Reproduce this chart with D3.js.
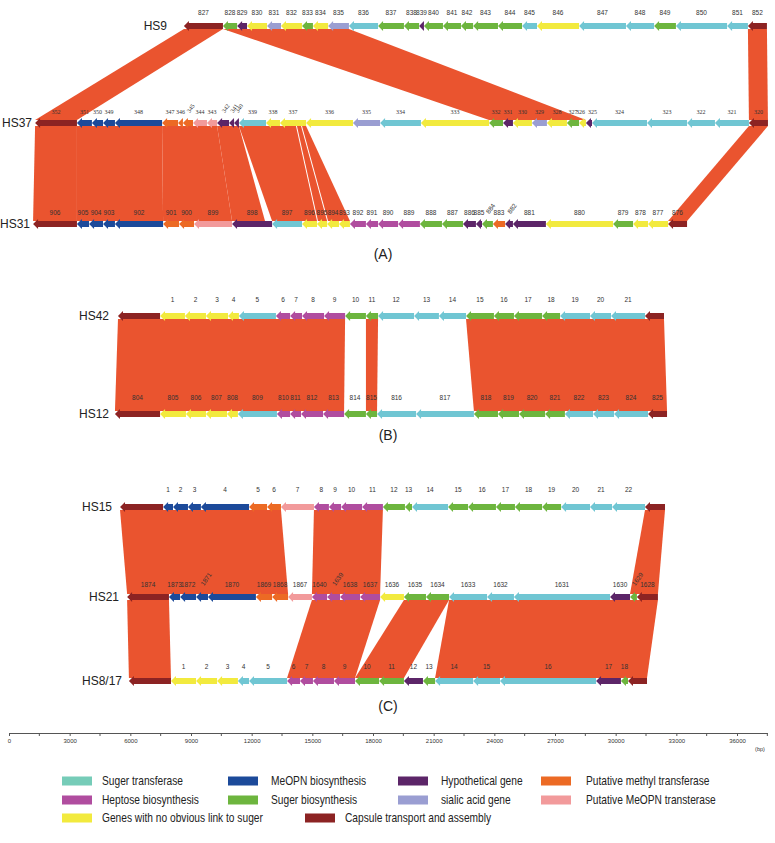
<!DOCTYPE html>
<html>
<head>
<meta charset="utf-8">
<script src="https://cdn.jsdelivr.net/npm/d3@7"></script>
<style>
body { margin: 0; background: #fff; }
svg { display: block; }
</style>
</head>
<body>
<svg id="chart"></svg>
<script>
'use strict';

// ---- data ----
var categories = ['st', 'meo', 'hyp', 'mt', 'hep', 'sb', 'sia', 'pm', 'yel', 'cap'];
var categoryNames = ['Suger transferase', 'MeOPN biosynthesis', 'Hypothetical gene', 'Putative methyl transferase',
    'Heptose biosynthesis', 'Suger biosynthesis', 'sialic acid gene', 'Putative MeOPN transterase',
    'Genes with no obvious link to suger', 'Capsule transport and assembly'];

var axisMajor = [0, 3000, 6000, 9000, 12000, 15000, 18000, 21000, 24000, 27000, 30000, 33000, 36000];
var axisMinor = [1500, 4500, 7500, 10500, 13500, 16500, 19500, 22500, 25500, 28500, 31500, 34500, 37500];

var hs9Names = ['827','828','829','830','831','832','833','834','835','836','837','838','839','840','841','842','843','844','845','846','847','848','849','850','851','852'];
var hs9Cats = ['cap','sb','hyp','yel','sia','yel','sb','yel','sia','st','sb','sb','hyp','sb','sb','sb','sb','sb','st','yel','st','st','sb','st','st','cap'];
var hs9Bounds = [8650,10580,11280,11770,12760,13450,14490,15030,15780,16810,18250,19530,20280,20520,21460,22350,22950,24180,25370,26110,28190,30510,31900,32980,35510,36540,37480];

var hs37Names = ['352','351','350','349','348','347','346','345','344','343','342','341','340','339','338','337','336','335','334','333','332','331','330','329','328','327','326','325','324','323','322','321','320'];
var hs37Cats = ['cap','meo','meo','meo','meo','mt','mt','mt','pm','pm','hyp','hyp','hyp','st','yel','yel','yel','sia','st','yel','sb','hyp','yel','sia','yel','sb','yel','hyp','st','st','st','st','cap'];
var hs37Bounds = [1290,3360,4100,4650,5240,7570,8360,8600,9100,9790,10290,10880,11130,11370,12710,13400,14690,17010,18350,20370,23740,24430,24920,25860,26600,27590,28190,28530,28830,31550,33530,34910,36590,37530];

var hs31Names = ['906','905','904','903','902','901','900','899','898','897','896','895','894','893','892','891','890','889','888','887','886','885','884','883','882','881','880','879','878','877','876'];
var hs31Cats = ['cap','meo','meo','meo','meo','mt','mt','pm','hyp','st','yel','yel','yel','yel','hep','hep','hep','hep','sb','sb','hyp','hyp','sb','mt','hyp','hyp','yel','sb','yel','yel','cap'];
var hs31Bounds = [1190,3360,3960,4650,5240,7620,8410,9150,11030,13010,14490,15230,15730,16320,16860,17650,18250,19240,20320,21410,22450,23090,23390,23930,24530,24920,26550,29870,30860,31600,32590,33530];

var hs42Names = ['','1','2','3','4','5','6','7','8','9','10','11','12','13','14','15','16','17','18','19','20','21',''];
var hs42Cats = ['cap','yel','yel','yel','yel','st','hep','hep','hep','hep','sb','sb','st','st','st','sb','sb','sb','sb','st','st','st','cap'];
var hs42Bounds = [5390,7470,8700,9740,10830,11370,13200,13900,14490,15580,16620,17650,18250,20030,21260,22600,23980,24970,26360,27250,28730,29770,31450,32390];

var hs12Names = ['804','805','806','807','808','809','810','811','812','813','814','815','816','817','818','819','820','821','822','823','824','825'];
var hs12Cats = ['cap','yel','yel','yel','yel','st','hep','hep','hep','hep','sb','sb','st','st','sb','sb','sb','sb','st','st','st','cap'];
var hs12Bounds = [5240,7470,8750,9740,10780,11320,13250,13900,14440,15530,16570,17650,18200,20130,22990,24180,25220,26510,27490,28880,29920,31600,32540];

var hs15Names = ['','1','2','3','4','5','6','7','8','9','10','11','12','13','14','15','16','17','18','19','20','21','22',''];
var hs15Cats = ['cap','meo','meo','meo','meo','mt','mt','pm','hep','hep','hep','hep','sb','sb','st','sb','sb','sb','sb','sb','st','st','st','cap'];
var hs15Bounds = [5490,7620,8110,8850,9490,11870,12760,13450,15080,15820,16420,17460,18490,19580,19930,21710,22700,24080,25020,26360,27300,28730,29820,31450,32440];

var hs21Names = ['1874','1873','1872','1871','1870','1869','1868','1867','1640','1639','1638','1637','1636','1635','1634','1633','1632','1631','1630','1629','1628'];
var hs21Cats = ['cap','meo','meo','meo','meo','mt','mt','pm','hep','hep','hep','hep','yel','sb','sb','st','st','st','hyp','sb','cap'];
var hs21Bounds = [5840,7910,8460,9250,9840,12210,13010,13800,14980,15730,16370,17360,18350,19530,20620,21760,23640,24970,29720,30710,31050,32090];

var hs817Names = ['','1','2','3','4','5','6','7','8','9','10','11','12','13','14','15','16','17','18',''];
var hs817Cats = ['cap','yel','yel','yel','st','st','hep','hep','hep','hep','sb','sb','hyp','sb','st','st','st','hyp','sb','cap'];
var hs817Bounds = [5930,8010,9250,10290,11320,11870,13750,14390,15030,16070,17110,18300,19530,20470,21070,22950,24280,29030,30260,30610,31550];

// homologous regions: [upper cluster, lower cluster, upper start, upper end, lower start, lower end] (bp)
var links = [
    ['HS9', 'HS37', 8650, 10580, 1290, 3360],
    ['HS9', 'HS37', 10580, 16810, 23740, 28530],
    ['HS9', 'HS37', 36540, 37480, 36590, 37530],
    ['HS37', 'HS31', 1290, 3360, 1190, 3360],
    ['HS37', 'HS31', 3360, 7570, 3360, 7620],
    ['HS37', 'HS31', 7570, 10290, 7620, 11030],
    ['HS37', 'HS31', 10290, 11370, 11030, 12660],
    ['HS37', 'HS31', 11370, 14190, 13010, 15230],
    ['HS37', 'HS31', 14240, 14440, 15280, 15730],
    ['HS37', 'HS31', 14490, 14690, 15780, 16860],
    ['HS37', 'HS31', 36590, 37530, 32590, 33530],
    ['HS42', 'HS12', 5390, 16620, 5240, 16570],
    ['HS42', 'HS12', 17650, 18250, 17650, 18200],
    ['HS42', 'HS12', 22600, 32390, 22990, 32540],
    ['HS15', 'HS21', 5490, 13450, 5840, 13800],
    ['HS15', 'HS21', 15080, 18490, 14980, 18350],
    ['HS15', 'HS21', 31450, 32440, 30710, 32090],
    ['HS21', 'HS8/17', 5840, 7910, 5930, 8010],
    ['HS21', 'HS8/17', 14980, 18350, 13750, 17110],
    ['HS21', 'HS8/17', 19530, 21760, 17110, 19530],
    ['HS21', 'HS8/17', 21760, 32090, 21070, 31550]
];

var rotatedLabels = ['345', '342', '341', '340', '884', '882', '1871', '1639', '1629'];

// ---- layout ----
var width = 775, height = 843;
var rows = {
    'HS9':    { y: 26,  labelX: 167, labelDy: -13, names: hs9Names, cats: hs9Cats, bounds: hs9Bounds },
    'HS37':   { y: 123, labelX: 32,  labelDy: -11, names: hs37Names, cats: hs37Cats, bounds: hs37Bounds, serif: true },
    'HS31':   { y: 224, labelX: 30,  labelDy: -11, names: hs31Names, cats: hs31Cats, bounds: hs31Bounds },
    'HS42':   { y: 316, labelX: 109, labelDy: -16, names: hs42Names, cats: hs42Cats, bounds: hs42Bounds },
    'HS12':   { y: 414, labelX: 109, labelDy: -16, names: hs12Names, cats: hs12Cats, bounds: hs12Bounds },
    'HS15':   { y: 507, labelX: 112, labelDy: -17, names: hs15Names, cats: hs15Cats, bounds: hs15Bounds },
    'HS21':   { y: 597, labelX: 119, labelDy: -12, names: hs21Names, cats: hs21Cats, bounds: hs21Bounds },
    'HS8/17': { y: 681, labelX: 122, labelDy: -14, names: hs817Names, cats: hs817Cats, bounds: hs817Bounds }
};
// small horizontal nudges for crowded labels (px)
var labelNudge = { 'HS37:326': -2, 'HS37:325': 3.5 };
var panels = [['(A)', 383, 254], ['(B)', 388, 435], ['(C)', 388, 706]];

var color = d3.scaleOrdinal().domain(categories)
    .range(['#70c6d3', '#1c4a9a', '#5c2568', '#ec6a24', '#b04d9f', '#6db53e', '#9a9ed2', '#f29a9b', '#f2ea3e', '#8c2323']);
var legendColor = function(c) { return c === 'st' ? '#76ccb8' : color(c); };
var linkColor = '#ea542f';

var x = d3.scaleLinear().domain([0, 37500]).range([9, 9 + 37500 * 728 / 36000]);

var svg = d3.select('#chart').attr('width', width).attr('height', height)
    .style('font-family', 'Arial, "Liberation Sans", sans-serif');

var bodyH = 3, headH = 5, headL = 5;
var arrowPath = function(x0, x1, y) {
    var l = Math.min(headL, x1 - x0);
    return 'M' + x0 + ',' + y +
        'L' + (x0 + l) + ',' + (y - headH) +
        'L' + (x0 + l) + ',' + (y - bodyH) +
        'L' + x1 + ',' + (y - bodyH) +
        'L' + x1 + ',' + (y + bodyH) +
        'L' + (x0 + l) + ',' + (y + bodyH) +
        'L' + (x0 + l) + ',' + (y + headH) + 'Z';
};

// links
svg.append('g').selectAll('path').data(links).enter().append('path')
    .attr('d', function(d) {
        var y0 = rows[d[0]].y + bodyH, y1 = rows[d[1]].y - bodyH;
        return 'M' + x(d[2]) + ',' + y0 + 'L' + x(d[3]) + ',' + y0 +
            'L' + x(d[5]) + ',' + y1 + 'L' + x(d[4]) + ',' + y1 + 'Z';
    })
    .attr('fill', linkColor);

// gene rows
Object.keys(rows).forEach(function(key) {
    var r = rows[key];
    var genes = r.names.map(function(n, i) {
        return { name: n, cat: r.cats[i], start: r.bounds[i], end: r.bounds[i + 1] };
    });
    var g = svg.append('g');

    g.selectAll('path').data(genes).enter().append('path')
        .attr('d', function(d) { return arrowPath(x(d.start), x(d.end), r.y); })
        .attr('fill', function(d) { return color(d.cat); });

    g.selectAll('text.gene').data(genes.filter(function(d) { return d.name; })).enter().append('text')
        .attr('class', 'gene')
        .attr('transform', function(d) {
            var cx = (x(d.start) + x(d.end)) / 2 + (labelNudge[key + ':' + d.name] || 0),
                cy = r.y + r.labelDy;
            return 'translate(' + cx + ',' + cy + ')' + (rotatedLabels.indexOf(d.name) >= 0 ? ' rotate(-55)' : '');
        })
        .attr('text-anchor', function(d) { return rotatedLabels.indexOf(d.name) >= 0 ? 'start' : 'middle'; })
        .attr('dy', '0.35em')
        .style('font-size', r.serif ? '6px' : '6.5px')
        .style('font-family', r.serif ? '"Liberation Serif", "Times New Roman", serif' : null)
        .attr('fill', '#333')
        .text(function(d) { return d.name; });

    g.append('text')
        .attr('x', r.labelX).attr('y', r.y).attr('dy', '0.35em')
        .attr('text-anchor', 'end')
        .style('font-size', '12px')
        .attr('fill', '#222')
        .text(key);
});

svg.append('g').selectAll('text').data(panels).enter().append('text')
    .attr('x', function(d) { return d[1]; }).attr('y', function(d) { return d[2]; })
    .attr('dy', '0.35em').attr('text-anchor', 'middle')
    .style('font-size', '14px').attr('fill', '#222')
    .text(function(d) { return d[0]; });

// scale bar
var axisY = 733;
var axisG = svg.append('g').attr('transform', 'translate(0,' + axisY + ')')
    .call(d3.axisBottom(x).tickValues(axisMajor).tickSize(3).tickSizeOuter(0).tickFormat(d3.format('d')));
axisG.selectAll('.tick text').style('font-size', '6px').attr('fill', '#333').attr('dy', '0.6em');
axisG.select('.domain').attr('stroke', '#555');
axisG.selectAll('.tick line').attr('stroke', '#555');
axisG.selectAll('line.minor').data(axisMinor).enter().append('line')
    .attr('class', 'minor')
    .attr('x1', function(d) { return x(d); }).attr('x2', function(d) { return x(d); })
    .attr('y1', 0).attr('y2', 3).attr('stroke', '#555');
svg.append('text').attr('x', 760).attr('y', 751).attr('text-anchor', 'middle')
    .style('font-size', '5.5px').attr('fill', '#333').text('(bp)');

// legend
var legendPos = [[62, 102, 781], [228, 271, 781], [398, 441, 781], [541, 586, 781],
                 [62, 102, 800], [228, 271, 800], [398, 441, 800], [541, 586, 800],
                 [62, 102, 818], [305, 345, 818]];
var legend = svg.append('g').selectAll('g').data(categories).enter().append('g');
legend.append('rect')
    .attr('x', function(d, i) { return legendPos[i][0]; })
    .attr('y', function(d, i) { return legendPos[i][2] - 4.5; })
    .attr('width', 30).attr('height', 9)
    .attr('fill', legendColor);
legend.append('text')
    .attr('transform', function(d, i) { return 'translate(' + legendPos[i][1] + ',' + legendPos[i][2] + ') scale(0.85,1)'; })
    .attr('dy', '0.35em')
    .style('font-size', '12px').attr('fill', '#222')
    .text(function(d, i) { return categoryNames[i]; });
</script>
</body>
</html>
